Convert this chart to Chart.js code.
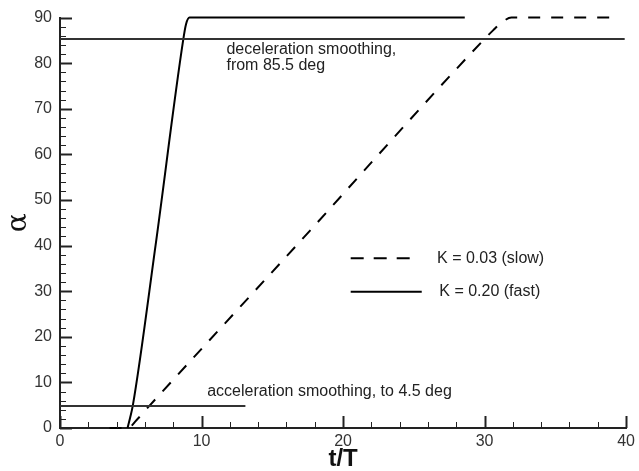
<!DOCTYPE html>
<html><head><meta charset="utf-8">
<script src="https://cdn.jsdelivr.net/npm/chart.js@4/dist/chart.umd.min.js"></script>
<style>html,body{margin:0;padding:0;background:#fff;}#wrap{width:639px;height:471px;}</style>
</head><body><div id="wrap"><canvas id="c" width="639" height="471"></canvas></div>
<script>
// ---- data ----
const slowT     = [3.5, 4.8, 5.4, 6.3, 16.7, 29.9, 30.6, 31.2, 31.9, 39.3];
const slowAlpha = [0,   0,   1.7, 4.8, 40,   85,   87.2, 88.9, 90,   90];
const fastT     = [4.77, 4.95, 5.15, 6.75, 8.7, 8.9,  9.15, 28.6];
const fastAlpha = [0,    2.2,  5,    40,   85,  88.5, 90,   90];
const decelT = [0, 39.9];  const decelAlpha = [85.3, 85.3];
const accelT = [0, 13.1];  const accelAlpha = [4.8, 4.8];
const xTicks = [0, 10, 20, 30, 40];
const yTicks = [0, 10, 20, 30, 40, 50, 60, 70, 80, 90];
const seriesLabels = ['K = 0.03 (slow)', 'K = 0.20 (fast)'];
const noteDecel = ['deceleration smoothing,', 'from 85.5 deg'];
const noteAccel = 'acceleration smoothing, to 4.5 deg';

const pts = (xs, ys) => xs.map((x, i) => ({x, y: ys[i]}));
const FONT = "'Liberation Sans', Arial, sans-serif";

const extras = {
  id: 'extras',
  afterDatasetsDraw(chart) {
    const {ctx, scales: {x, y}} = chart;
    ctx.save();
    // inward ticks (major + minor)
    ctx.strokeStyle = '#222';
    for (let v = 0; v <= 40; v += 2) {
      const major = xTicks.includes(v);
      const px = Math.round(x.getPixelForValue(v)) + 0.5;
      ctx.lineWidth = major ? 2 : 1;
      ctx.beginPath(); ctx.moveTo(px, y.bottom); ctx.lineTo(px, y.bottom - (major ? 12 : 6)); ctx.stroke();
    }
    for (let v = 0; v <= 90; v += 2) {
      const major = yTicks.includes(v);
      const py = Math.round(y.getPixelForValue(v)) + 0.5;
      ctx.lineWidth = major ? 2 : 1;
      ctx.beginPath(); ctx.moveTo(x.left, py); ctx.lineTo(x.left + (major ? 12 : 6), py); ctx.stroke();
    }
    // annotations
    ctx.fillStyle = '#222';
    ctx.font = '16px ' + FONT;
    ctx.textBaseline = 'middle';
    ctx.textAlign = 'left';
    ctx.fillText(noteDecel[0], x.getPixelForValue(11.76), y.getPixelForValue(82.9));
    ctx.fillText(noteDecel[1], x.getPixelForValue(11.76), y.getPixelForValue(79.4));
    ctx.fillText(noteAccel, x.getPixelForValue(10.4), y.getPixelForValue(7.9));
    // legend
    const lx0 = x.getPixelForValue(20.54);
    const ly1 = y.getPixelForValue(37.2), ly2 = y.getPixelForValue(29.9);
    ctx.strokeStyle = '#000'; ctx.lineWidth = 2;
    ctx.setLineDash([13, 10]);
    ctx.beginPath(); ctx.moveTo(lx0, ly1); ctx.lineTo(x.getPixelForValue(24.77), ly1); ctx.stroke();
    ctx.setLineDash([]);
    ctx.beginPath(); ctx.moveTo(lx0, ly2); ctx.lineTo(x.getPixelForValue(25.56), ly2); ctx.stroke();
    ctx.fillText(seriesLabels[0], x.getPixelForValue(26.64), ly1);
    ctx.fillText(seriesLabels[1], x.getPixelForValue(26.8), ly2);
    ctx.restore();
  }
};

new Chart(document.getElementById('c'), {
  type: 'line',
  data: {
    datasets: [
      {label: 'decel', data: pts(decelT, decelAlpha), borderColor: '#333', borderWidth: 2, pointRadius: 0, clip: false},
      {label: 'accel', data: pts(accelT, accelAlpha), borderColor: '#333', borderWidth: 2, pointRadius: 0, clip: false},
      {label: seriesLabels[0], data: pts(slowT, slowAlpha), borderColor: '#000', borderWidth: 2,
       borderDash: [12, 11], pointRadius: 0, cubicInterpolationMode: 'monotone', clip: false},
      {label: seriesLabels[1], data: pts(fastT, fastAlpha), borderColor: '#000', borderWidth: 2,
       pointRadius: 0, cubicInterpolationMode: 'monotone', clip: false}
    ]
  },
  options: {
    responsive: false, animation: false, devicePixelRatio: 1,
    layout: {padding: {top: 13, right: 11, left: 0, bottom: 0}},
    plugins: {legend: {display: false}, tooltip: {enabled: false}},
    scales: {
      x: {
        type: 'linear', min: 0, max: 40,
        afterBuildTicks: s => { s.ticks = xTicks.map(v => ({value: v})); },
        afterFit: s => { s.height = 43; },
        grid: {display: false, drawTicks: false},
        border: {display: true, color: '#222', width: 2},
        ticks: {font: {size: 16, family: FONT}, color: '#333', padding: 4, maxRotation: 0},
        title: {display: true, text: 't/T', color: '#111', font: {size: 24, weight: 'bold', family: FONT, lineHeight: 1}, padding: {top: 0, bottom: 0}}
      },
      y: {
        type: 'linear', min: 0, max: 90,
        afterBuildTicks: s => { s.ticks = yTicks.map(v => ({value: v})); },
        afterFit: s => { s.width = 60; },
        grid: {display: false, drawTicks: false},
        border: {display: true, color: '#222', width: 2},
        ticks: {font: {size: 16, family: FONT}, color: '#333', padding: 8},
        title: {display: true, text: 'α', color: '#111', font: {size: 28, family: "'DejaVu Serif', 'Liberation Serif', serif", lineHeight: 1}, padding: {top: 5, bottom: 0}}
      }
    }
  },
  plugins: [extras]
});
</script></body></html>
